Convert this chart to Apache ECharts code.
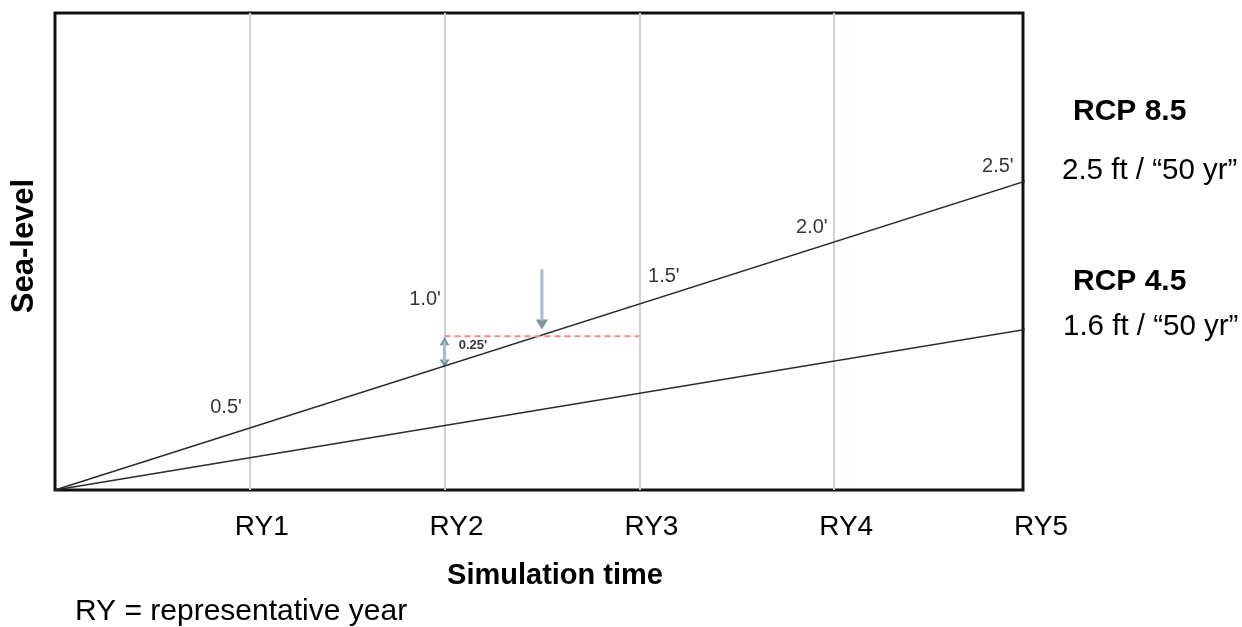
<!DOCTYPE html>
<html>
<head>
<meta charset="utf-8">
<script src="https://cdn.jsdelivr.net/npm/echarts@6/dist/echarts.min.js"></script>
<style>html,body{margin:0;padding:0;background:#fff}#c{width:1242px;height:627px}</style>
</head>
<body>
<div id="c"></div>
<script>
// ---- data ----
const tickLabels = ['RY1', 'RY2', 'RY3', 'RY4', 'RY5'];
const rcp85 = [[0, 0], [5, 2.5]];
const rcp45 = [[0, 0], [5, 1.3]];
const threshold = [[2, 1.24], [3, 1.24]];
const depthLabels = [
  [0.878, 0.669, "0.5'"],
  [1.90, 1.54, "1.0'"],
  [3.126, 1.726, "1.5'"],
  [3.886, 2.121, "2.0'"],
  [4.841, 2.613, "2.5'"]
];
const diffLabel = [[2.146, 1.169, "0.25'"]];
const shaftDown = [[2.5, 1.78], [2.5, 1.36]];
const shaftDouble = [[2, 1.2], [2, 1.03]];
const arrowHeads = [[2.5, 1.335, 180, 12], [2, 1.2, 0, 10], [2, 1.02, 180, 10]];
const yMax = 3.847;
const xMax = 4.97;

const FONT = '"Liberation Sans", Arial, sans-serif';
const chart = echarts.init(document.getElementById('c'), null, {renderer: 'canvas'});
const plainLabel = {textBorderWidth: 0, textBorderColor: 'transparent', textShadowBlur: 0};
chart.setOption({
  animation: false,
  backgroundColor: '#fff',
  grid: [
    {left: 55, right: 219, top: 13, bottom: 137, show: true, borderColor: '#111', borderWidth: 3, backgroundColor: 'transparent'},
    {left: 67, right: 201, top: 489, bottom: 137}
  ],
  xAxis: [
    {type: 'value', gridIndex: 0, min: 0, max: xMax, interval: 1,
     axisLine: {show: false}, axisTick: {show: false}, axisLabel: {show: false},
     splitLine: {show: true, showMinLine: false, showMaxLine: false, lineStyle: {color: '#c8d5dc', width: 2}}},
    {type: 'value', gridIndex: 1, min: 0, max: 5, interval: 1,
     axisLine: {show: false}, axisTick: {show: false}, splitLine: {show: false},
     axisLabel: {show: true, margin: 23, fontSize: 28, color: '#000', fontFamily: FONT,
       showMinLabel: false,
       formatter: v => tickLabels[Math.round(v) - 1] || ''}}
  ],
  yAxis: [
    {type: 'value', gridIndex: 0, min: 0, max: yMax, show: false, splitLine: {show: false}},
    {type: 'value', gridIndex: 1, min: 0, max: 1, show: false}
  ],
  series: [
    {type: 'line', name: 'RCP 8.5', data: rcp85, symbol: 'none', silent: true,
     lineStyle: {color: '#2b2b2b', width: 1.6}},
    {type: 'line', name: 'RCP 4.5', data: rcp45, symbol: 'none', silent: true,
     lineStyle: {color: '#2b2b2b', width: 1.6}},
    {type: 'line', data: threshold, symbol: 'none', silent: true,
     lineStyle: {color: '#f28a84', width: 2, type: [6, 4]}},
    {type: 'line', data: shaftDown, symbol: 'none', silent: true,
     lineStyle: {color: '#a7bcc6', width: 3}},
    {type: 'line', data: shaftDouble, symbol: 'none', silent: true,
     lineStyle: {color: '#a7bcc6', width: 3}},
    {type: 'scatter', silent: true, symbol: 'triangle',
     data: arrowHeads.map(a => ({value: [a[0], a[1]], symbolRotate: a[2], symbolSize: [a[3], a[3] - 2]})),
     itemStyle: {color: '#587b8a'}},
    {type: 'scatter', silent: true, symbolSize: 0.1, itemStyle: {color: 'transparent'},
     data: depthLabels.map(d => ({value: [d[0], d[1]], name: d[2]})),
     label: Object.assign({show: true, position: 'inside', formatter: p => p.name, fontSize: 20, color: '#000', fontFamily: FONT}, plainLabel)},
    {type: 'scatter', silent: true, symbolSize: 0.1, itemStyle: {color: 'transparent'},
     data: diffLabel.map(d => ({value: [d[0], d[1]], name: d[2]})),
     label: Object.assign({show: true, position: 'inside', formatter: p => p.name, fontSize: 13, fontWeight: 'bold', color: '#000', fontFamily: FONT}, plainLabel)}
  ],
  graphic: [
    {type: 'text', x: 555, y: 576, style: {text: 'Simulation time', font: 'bold 29px ' + FONT, fill: '#000', align: 'center', verticalAlign: 'middle'}},
    {type: 'text', x: 75, y: 612, style: {text: 'RY = representative year', font: '30px ' + FONT, fill: '#000', align: 'left', verticalAlign: 'middle'}},
    {type: 'text', x: 24, y: 246, rotation: Math.PI / 2, style: {text: 'Sea-level', font: 'bold 31px ' + FONT, fill: '#000', align: 'center', verticalAlign: 'middle'}},
    {type: 'text', x: 1073, y: 112, style: {text: 'RCP 8.5', font: 'bold 30px ' + FONT, fill: '#000', align: 'left', verticalAlign: 'middle'}},
    {type: 'text', x: 1062, y: 171, style: {text: '2.5 ft / \u201C50 yr\u201D', font: '29.5px ' + FONT, fill: '#000', align: 'left', verticalAlign: 'middle'}},
    {type: 'text', x: 1073, y: 282, style: {text: 'RCP 4.5', font: 'bold 30px ' + FONT, fill: '#000', align: 'left', verticalAlign: 'middle'}},
    {type: 'text', x: 1063, y: 327, style: {text: '1.6 ft / \u201C50 yr\u201D', font: '29.5px ' + FONT, fill: '#000', align: 'left', verticalAlign: 'middle'}}
  ]
});
</script>
</body>
</html>
